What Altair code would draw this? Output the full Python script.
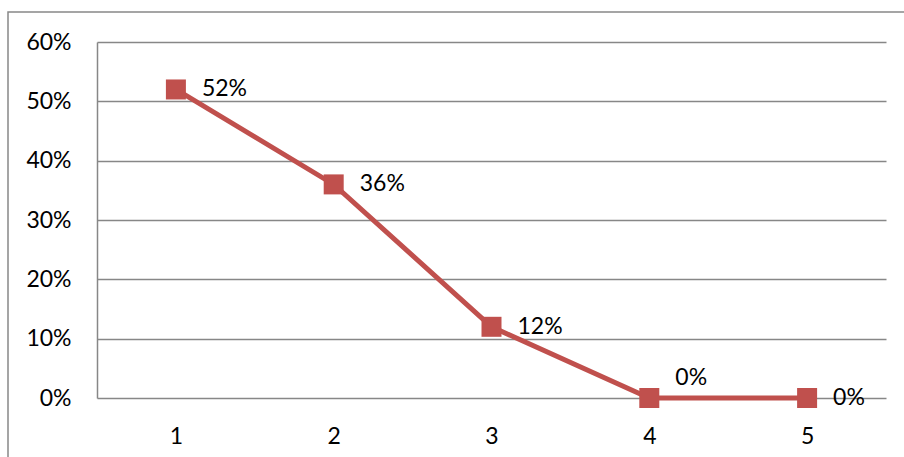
import altair as alt
import pandas as pd

categories = ["1", "2", "3", "4", "5"]
values = [0.52, 0.36, 0.12, 0.0, 0.0]
labels = ["52%", "36%", "12%", "0%", "0%"]
label_above = [False, False, False, True, False]

df = pd.DataFrame({"cat": categories, "val": values, "label": labels, "above": label_above})

FONT = "Lato"
FS = 23
RED = "#C0504D"
GRID = "#878787"

x = alt.X("cat:N", sort=categories, title=None,
          scale=alt.Scale(paddingInner=0, paddingOuter=0.5),
          axis=alt.Axis(labelAngle=0, ticks=False, domain=False, labelPadding=27,
                        labelFontSize=FS, labelFont=FONT, labelColor="#000"))
y = alt.Y("val:Q", title=None,
          scale=alt.Scale(domain=[0, 0.6], nice=False),
          axis=alt.Axis(format=".0%", values=[0, 0.1, 0.2, 0.3, 0.4, 0.5, 0.6],
                        ticks=False, domain=True, domainColor=GRID, domainWidth=1.5,
                        grid=True, gridColor=GRID, gridWidth=1.5,
                        labelPadding=26, labelFontSize=FS, labelFont=FONT, labelColor="#000"))

base = alt.Chart(df)

line = base.mark_line(color=RED, strokeWidth=5).encode(x=x, y=y)
pts = base.mark_point(shape="square", size=400, filled=True, opacity=1, color=RED).encode(x=x, y=y)

lab_right = base.transform_filter("!datum.above").mark_text(
    align="left", baseline="middle", dx=26, fontSize=FS, font=FONT, color="#000"
).encode(x=x, y=y, text="label:N")

lab_above = base.transform_filter("datum.above").mark_text(
    align="left", baseline="middle", dx=26, dy=-20, fontSize=FS, font=FONT, color="#000"
).encode(x=x, y=y, text="label:N")

border = alt.Chart(pd.DataFrame({"a": [0]})).mark_rect(
    fill=None, stroke="#888888", strokeWidth=1.5, clip=False
).encode(x=alt.value(-89), x2=alt.value(830), y=alt.value(-30), y2=alt.value(440))

chart = alt.layer(border, line, pts, lab_right, lab_above).properties(
    width=789, height=356,
    padding={"left": 97, "top": 42, "right": 18, "bottom": 59},
    autosize=alt.AutoSizeParams(type="none"),
    background="white",
).configure_view(stroke=None)

chart.save("out.html", embed_options={"renderer": "svg", "actions": False})
